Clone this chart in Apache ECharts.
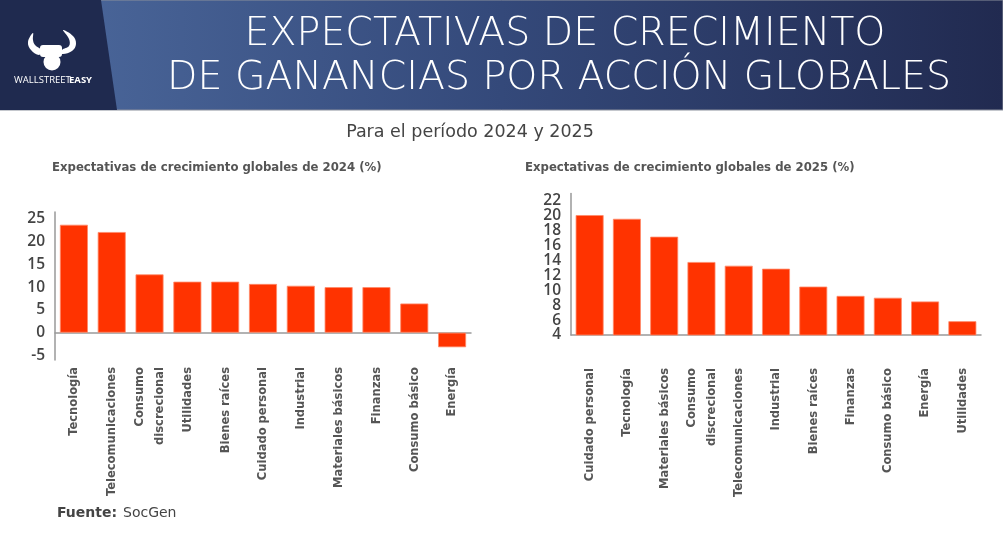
<html>
<head>
    <meta charset="utf-8">
    <title>Expectativas de crecimiento</title>
    <script src="https://cdn.jsdelivr.net/npm/echarts@6/dist/echarts.min.js"></script>
    <style>
        body { margin: 0; background: #fff; }
        #main { width: 1003px; height: 551px; }
    </style>
</head>
<body>
    <div id="main"></div>
    <script type="text/javascript">
        // datos
        var sectores2024 = ['Tecnología', 'Telecomunicaciones', 'Consumo\ndiscrecional', 'Utilidades', 'Bienes raíces',
            'Cuidado personal', 'Industrial', 'Materiales básicos', 'Finanzas', 'Consumo básico', 'Energía'];
        var valores2024 = [23.7, 22.1, 12.8, 11.2, 11.2, 10.7, 10.3, 10.0, 10.0, 6.4, -3.2];

        var sectores2025 = ['Cuidado personal', 'Tecnología', 'Materiales básicos', 'Consumo\ndiscrecional', 'Telecomunicaciones',
            'Industrial', 'Bienes raíces', 'Finanzas', 'Consumo básico', 'Energía', 'Utilidades'];
        var valores2025 = [20.1, 19.6, 17.2, 13.8, 13.3, 12.9, 10.5, 9.25, 9.0, 8.5, 5.85];

        var tituloLineas = ['EXPECTATIVAS DE CRECIMIENTO', 'DE GANANCIAS POR ACCIÓN GLOBALES'];
        var subtitulo = 'Para el período 2024 y 2025';
        var titulo2024 = 'Expectativas de crecimiento globales de 2024 (%)';
        var titulo2025 = 'Expectativas de crecimiento globales de 2025 (%)';

        var narrow = '"Liberation Sans Narrow", "DejaVu Sans Condensed", sans-serif';
        var rojo = '#ff3300';
        var gris = '#999';

        var myChart = echarts.init(document.getElementById('main'));

        function ejeX(datos, idx, margen) {
            return {
                type: 'category', gridIndex: idx, data: datos,
                axisLine: { onZero: true, lineStyle: { color: gris, width: 1.5 } },
                axisTick: { show: false },
                axisLabel: {
                    interval: 0, rotate: 90, margin: margen,
                    fontFamily: narrow, fontWeight: 'bold', fontSize: 12.8,
                    color: '#555', lineHeight: 20, align: 'right', verticalAlign: 'middle'
                }
            };
        }

        // solo algunos valores del eje llevan etiqueta
        function cadaN(n) {
            return function (v) { return v % n === 0 ? String(v) : ''; };
        }

        var option = {
            backgroundColor: '#fff',
            animation: false,
            graphic: [
                // cabecera
                { type: 'rect', shape: { x: 0, y: 0, width: 1003, height: 110 },
                  style: { fill: new echarts.graphic.LinearGradient(0, 0, 1, 0, [
                      { offset: 0, color: '#4d6a9e' }, { offset: 0.5, color: '#34497a' }, { offset: 1, color: '#212a50' }]),
                      stroke: '#8a8f9c', lineWidth: 1 } },
                { type: 'polygon', shape: { points: [[0, 0], [101, 0], [117, 110], [0, 110]] },
                  style: { fill: '#1f2a4f' } },
                // logo
                { type: 'polygon', shape: { smooth: 0.4, points: [[33, 33], [28, 42], [31, 50], [39, 55], [41, 50], [35, 45], [33, 40]] },
                  style: { fill: '#fff' } },
                { type: 'polygon', shape: { smooth: 0.4, points: [[63, 30], [73, 36], [76, 44], [72, 51], [62, 54], [62, 50], [69, 46], [69, 39]] },
                  style: { fill: '#fff' } },
                { type: 'rect', shape: { x: 40, y: 45, width: 22, height: 12, r: 3 }, style: { fill: '#fff' } },
                { type: 'circle', shape: { cx: 52, cy: 62, r: 8.5 }, style: { fill: '#fff' } },
                { type: 'text', x: 14, y: 80,
                  style: { text: 'WALLSTREET', fill: '#fff', font: '9.5px "Open Sans"', verticalAlign: 'middle' } },
                { type: 'text', x: 69, y: 80,
                  style: { text: 'EASY', fill: '#fff', font: 'bold 9.5px "Open Sans"', verticalAlign: 'middle' } },
                // titulo
                { type: 'text', x: 565, y: 35,
                  style: { text: tituloLineas[0], fill: '#fff', font: '200 39.5px "DejaVu Sans"', align: 'center', verticalAlign: 'middle' } },
                { type: 'text', x: 559, y: 79,
                  style: { text: tituloLineas[1], fill: '#fff', font: '200 39.5px "DejaVu Sans"', align: 'center', verticalAlign: 'middle' } },
                { type: 'text', x: 470, y: 132,
                  style: { text: subtitulo, fill: '#444', font: '17.5px "DejaVu Sans"', align: 'center', verticalAlign: 'middle' } },
                { type: 'text', x: 52, y: 168,
                  style: { text: titulo2024, fill: '#555', font: 'bold 13px ' + narrow, verticalAlign: 'middle' } },
                { type: 'text', x: 525, y: 168,
                  style: { text: titulo2025, fill: '#555', font: 'bold 13px ' + narrow, verticalAlign: 'middle' } },
                { type: 'text', x: 57, y: 513,
                  style: { text: 'Fuente:', fill: '#444', font: 'bold 14px "DejaVu Sans"', verticalAlign: 'middle' } },
                { type: 'text', x: 123, y: 513,
                  style: { text: 'SocGen', fill: '#444', font: '14px "DejaVu Sans"', verticalAlign: 'middle' } }
            ],
            grid: [
                { left: 55, width: 416, top: 212, bottom: 191 },
                { left: 571, width: 410, top: 193.5, bottom: 216 }
            ],
            xAxis: [ejeX(sectores2024, 0, 7), ejeX(sectores2025, 1, 33)],
            yAxis: [
                { type: 'value', gridIndex: 0, min: -6, max: 26.5, interval: 1,
                  splitLine: { show: false }, axisTick: { show: false },
                  axisLine: { show: true, lineStyle: { color: gris, width: 1.5 } },
                  axisLabel: { margin: 10, fontFamily: 'Open Sans', fontWeight: 600, fontSize: 15.5, color: '#444',
                      formatter: cadaN(5) } },
                { type: 'value', gridIndex: 1, min: 4, max: 23, interval: 1,
                  splitLine: { show: false }, axisTick: { show: false },
                  axisLine: { show: true, lineStyle: { color: gris, width: 1.5 } },
                  axisLabel: { margin: 10, fontFamily: 'Open Sans', fontWeight: 600, fontSize: 15.5, color: '#444',
                      formatter: cadaN(2) } }
            ],
            series: [
                { type: 'bar', xAxisIndex: 0, yAxisIndex: 0, data: valores2024, barCategoryGap: '26%',
                  itemStyle: { color: rojo, borderColor: '#ff8a6a', borderWidth: 0.8 } },
                { type: 'bar', xAxisIndex: 1, yAxisIndex: 1, data: valores2025, barCategoryGap: '25%',
                  itemStyle: { color: rojo, borderColor: '#ff8a6a', borderWidth: 0.8 } }
            ]
        };

        myChart.setOption(option);
    </script>
</body>
</html>
